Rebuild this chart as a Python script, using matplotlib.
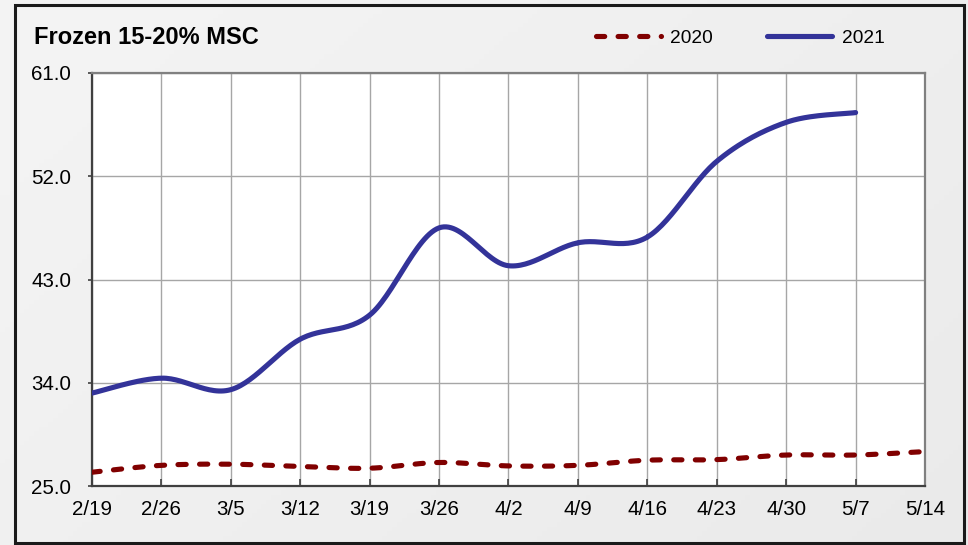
import numpy as np
import matplotlib.pyplot as plt
from matplotlib.patches import Rectangle

weeks = ['2/19', '2/26', '3/5', '3/12', '3/19', '3/26', '4/2', '4/9',
         '4/16', '4/23', '4/30', '5/7', '5/14']
y2020 = [26.2, 26.8, 26.9, 26.7, 26.55, 27.05, 26.75, 26.8, 27.25, 27.3, 27.7, 27.7, 28.0]
y2021 = [33.1, 34.4, 33.4, 37.8, 39.9, 47.5, 44.2, 46.2, 46.7, 53.3, 56.7, 57.55]
yticks = [25.0, 34.0, 43.0, 52.0, 61.0]


def smooth(vals, n=30):
    # catmull-rom style curve through the points, like excel's smoothed line
    v = np.asarray(vals, float)
    x = np.arange(len(v), dtype=float)
    p = np.concatenate([[v[0]], v, [v[-1]]])
    px = np.concatenate([[x[0]], x, [x[-1]]])
    xs, ys = [], []
    t = np.linspace(0, 1, n)
    for i in range(len(v) - 1):
        for arr, out in ((px, xs), (p, ys)):
            p0, p1, p2, p3 = arr[i], arr[i + 1], arr[i + 2], arr[i + 3]
            c = 0.5 * ((2 * p1) + (-p0 + p2) * t + (2 * p0 - 5 * p1 + 4 * p2 - p3) * t ** 2
                       + (-p0 + 3 * p1 - 3 * p2 + p3) * t ** 3)
            out.append(c)
    return np.concatenate(xs), np.concatenate(ys)


plt.rcParams['font.family'] = ['Liberation Sans', 'DejaVu Sans']
fig = plt.figure(figsize=(9.68, 5.45), dpi=100)

# light gray gradient background with a dark frame
bg = fig.add_axes([0, 0, 1, 1], zorder=-5)
gx, gy = np.meshgrid(np.linspace(0, 1, 200), np.linspace(0, 1, 120))
bg.imshow(0.955 - 0.04 * (gx * 0.6 + gy * 0.4), cmap='gray', vmin=0, vmax=1,
          aspect='auto', extent=[0, 1, 0, 1], origin='upper')
bg.add_patch(Rectangle((15 / 968, 2 / 545), 949 / 968, 538 / 545, fill=False,
                       ec='#1a1a1a', lw=2.2, transform=bg.transAxes))
bg.set_xlim(0, 1)
bg.set_ylim(0, 1)
bg.axis('off')

ax = fig.add_axes([92 / 968, 1 - 486 / 545, 833 / 968, 413 / 545])
ax.set_facecolor('white')

x0, s0 = smooth(y2020)
x1, s1 = smooth(y2021)
l20, = ax.plot(x0, s0, color='#800000', lw=3.7, dashes=(1.6, 2.6),
               dash_capstyle='round', label='2020', zorder=3)
l21, = ax.plot(x1, s1, color='#333399', lw=3.7, solid_capstyle='round',
               label='2021', zorder=4)

ax.set_xlim(0, len(weeks) - 1)
ax.set_ylim(25, 61)
ax.set_xticks(range(len(weeks)))
ax.set_xticklabels(weeks)
ax.set_yticks(yticks)
ax.set_yticklabels(['%.1f' % v for v in yticks])
ax.grid(True, color='#a6a6a6', lw=1)
ax.set_axisbelow(True)
ax.tick_params(axis='x', direction='in', length=5, width=1.2, color='#404040',
               pad=10, labelsize=14.8)
ax.tick_params(axis='y', direction='out', length=3, width=1.2, color='#404040',
               pad=12, labelsize=14.8)
for side in ['left', 'bottom']:
    ax.spines[side].set_color('#404040')
    ax.spines[side].set_linewidth(1.6)
for side in ['top', 'right']:
    ax.spines[side].set_color('#808080')
    ax.spines[side].set_linewidth(1.6)

fig.text(34 / 968, 1 - 37 / 545, 'Frozen 15-20% MSC', fontsize=17,
         fontweight='bold', va='center', ha='left')
fig.legend(handles=[l20, l21], loc='center', bbox_to_anchor=(740 / 968, 1 - 38 / 545),
           ncol=2, frameon=False, fontsize=13.8, handlelength=3.4,
           handletextpad=0.5, columnspacing=2.8)

fig.savefig('out.png', dpi=100)
